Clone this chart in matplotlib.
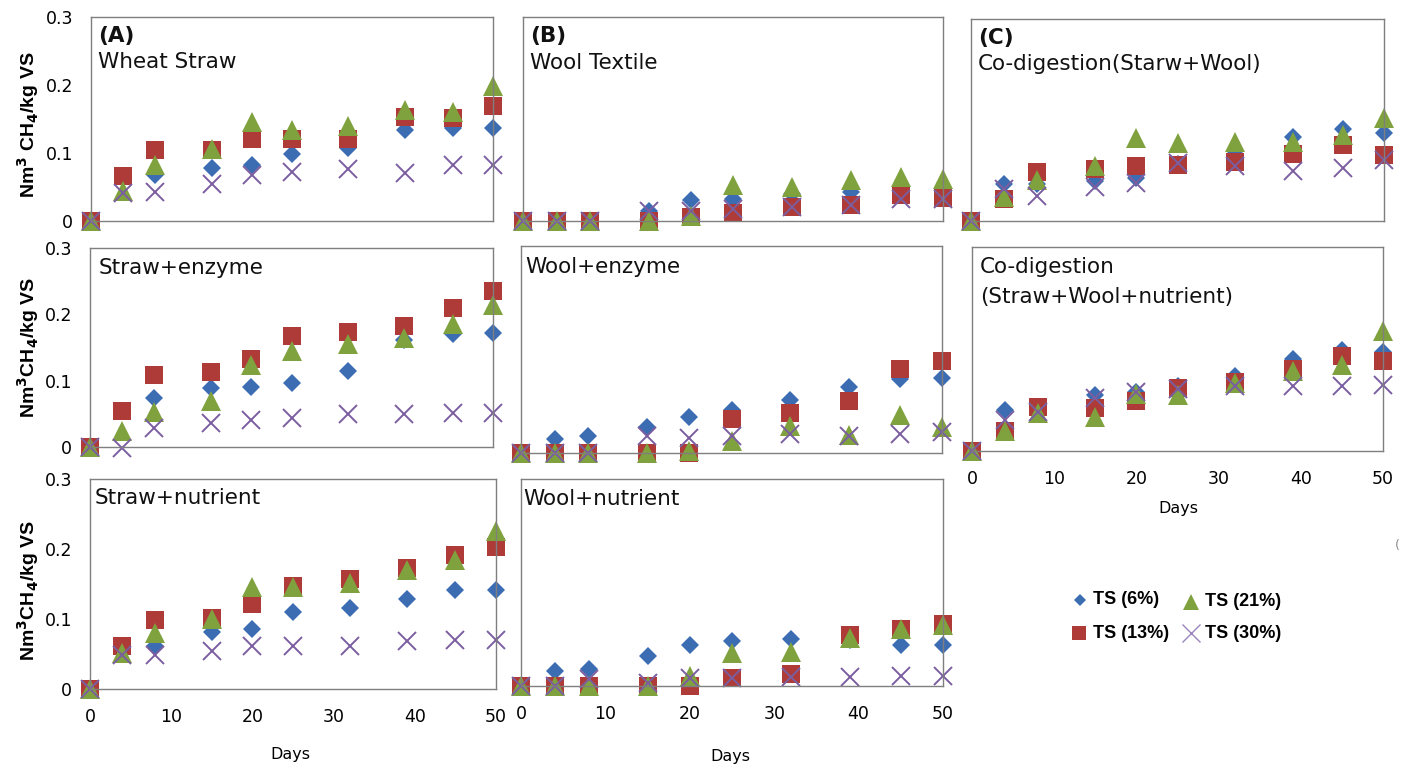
import matplotlib
matplotlib.use('Agg')
import matplotlib.pyplot as plt
from matplotlib.lines import Line2D

W, H = 1407, 769
days = [0, 4, 8, 15, 20, 25, 32, 39, 45, 50]
series_labels = ['TS (6%)', 'TS (13%)', 'TS (21%)', 'TS (30%)']

# (A) Wheat Straw
wheat_ts6 = [0, 0.065, 0.068, 0.078, 0.083, 0.098, 0.108, 0.134, 0.137, 0.137]
wheat_ts13 = [0, 0.066, 0.105, 0.105, 0.120, 0.120, 0.120, 0.153, 0.151, 0.169]
wheat_ts21 = [0, 0.044, 0.082, 0.106, 0.146, 0.134, 0.139, 0.163, 0.161, 0.198]
wheat_ts30 = [0, 0.041, 0.043, 0.055, 0.067, 0.072, 0.077, 0.071, 0.083, 0.083]
# (B) Wool Textile
wool_ts6 = [0, 0, 0, 0.015, 0.031, 0.032, 0.039, 0.042, 0.040, 0.036]
wool_ts13 = [0, 0, 0, 0, 0.006, 0.012, 0.020, 0.024, 0.038, 0.034]
wool_ts21 = [0, 0, 0, 0, 0.007, 0.053, 0.050, 0.060, 0.065, 0.062]
wool_ts30 = [0, 0, 0, 0.015, 0.015, 0.018, 0.020, 0.024, 0.033, 0.032]
# (C) Co-digestion (Straw+Wool)
codig_ts6 = [0, 0.055, 0.055, 0.060, 0.064, 0.085, 0.100, 0.125, 0.137, 0.130]
codig_ts13 = [0, 0.032, 0.073, 0.077, 0.082, 0.083, 0.088, 0.100, 0.113, 0.098]
codig_ts21 = [0, 0.035, 0.061, 0.082, 0.123, 0.116, 0.118, 0.117, 0.128, 0.153]
codig_ts30 = [0, 0.047, 0.037, 0.050, 0.057, 0.086, 0.081, 0.074, 0.079, 0.091]
# Straw + enzyme
strenz_ts6 = [0, 0.055, 0.074, 0.089, 0.091, 0.096, 0.114, 0.162, 0.171, 0.172]
strenz_ts13 = [0, 0.055, 0.108, 0.113, 0.133, 0.168, 0.173, 0.183, 0.210, 0.235]
strenz_ts21 = [0, 0.024, 0.053, 0.070, 0.124, 0.145, 0.155, 0.164, 0.185, 0.214]
strenz_ts30 = [0, -0.002, 0.029, 0.036, 0.040, 0.043, 0.049, 0.049, 0.052, 0.052]
# Wool + enzyme
woolenz_ts6 = [0, 0.021, 0.025, 0.037, 0.052, 0.063, 0.077, 0.095, 0.107, 0.109]
woolenz_ts13 = [0, 0, 0, 0, 0, 0.049, 0.058, 0.076, 0.122, 0.133]
woolenz_ts21 = [0, 0, 0, 0, 0.003, 0.018, 0.039, 0.026, 0.055, 0.038]
woolenz_ts30 = [0, 0, 0, 0.024, 0.022, 0.024, 0.028, 0.024, 0.028, 0.031]
# Co-digestion (Straw+Wool+nutrient)
codnut_ts6 = [0, 0.060, 0.065, 0.082, 0.087, 0.095, 0.110, 0.136, 0.149, 0.146]
codnut_ts13 = [0, 0.029, 0.065, 0.063, 0.073, 0.093, 0.102, 0.121, 0.139, 0.133]
codnut_ts21 = [0, 0.030, 0.056, 0.050, 0.084, 0.083, 0.100, 0.117, 0.126, 0.176]
codnut_ts30 = [0, 0.046, 0.058, 0.078, 0.087, 0.091, 0.095, 0.095, 0.096, 0.097]
# Straw + nutrient
strnut_ts6 = [0, 0.054, 0.061, 0.082, 0.086, 0.110, 0.116, 0.129, 0.141, 0.141]
strnut_ts13 = [0, 0.061, 0.098, 0.101, 0.121, 0.147, 0.157, 0.173, 0.192, 0.203]
strnut_ts21 = [0, 0.052, 0.080, 0.100, 0.146, 0.146, 0.151, 0.170, 0.185, 0.226]
strnut_ts30 = [0, 0.049, 0.049, 0.054, 0.061, 0.062, 0.061, 0.068, 0.070, 0.070]
# Wool + nutrient
woolnut_ts6 = [0, 0.022, 0.025, 0.043, 0.059, 0.065, 0.068, 0.067, 0.060, 0.060]
woolnut_ts13 = [0, 0, 0, 0, 0, 0.011, 0.017, 0.074, 0.083, 0.090]
woolnut_ts21 = [0, 0, 0, 0, 0.014, 0.048, 0.049, 0.070, 0.083, 0.088]
woolnut_ts30 = [0, 0, 0.010, 0.004, 0.011, 0.011, 0.013, 0.013, 0.015, 0.015]

BLUE, RED, GREEN, PURPLE = '#3C6DB2', '#AE3B38', '#80A23E', '#7B5EA0'
styles = [
    dict(marker='D', color=BLUE, ms=9.3, ls='none', mew=0),
    dict(marker='s', color=RED, ms=13.5, ls='none', mew=0),
    dict(marker='^', color=GREEN, ms=14.5, ls='none', mew=0),
    dict(marker='x', color=PURPLE, ms=13.5, ls='none', mew=1.4),
]

fig = plt.figure(figsize=(W / 100, H / 100), dpi=100)


def add_ax(x0, y0, x1, y1):
    return fig.add_axes([x0 / W, 1 - y1 / H, (x1 - x0) / W, (y1 - y0) / H])


def fx(x):
    return x / W


def fy(y):
    return 1 - y / H


panels = [
    # rect, data, texts, show_y, show_x
    ((91, 17, 493, 221), [wheat_ts6, wheat_ts13, wheat_ts21, wheat_ts30],
     [('(A)', 98, 36, 'bold'), ('Wheat Straw', 98, 62, 'normal')], True, False),
    ((523, 17, 943, 221), [wool_ts6, wool_ts13, wool_ts21, wool_ts30],
     [('(B)', 530, 36, 'bold'), ('Wool Textile', 530, 63, 'normal')], False, False),
    ((971, 19, 1384, 221), [codig_ts6, codig_ts13, codig_ts21, codig_ts30],
     [('(C)', 978, 38, 'bold'), ('Co-digestion(Starw+Wool)', 978, 64, 'normal')], False, False),
    ((90, 248, 493, 447), [strenz_ts6, strenz_ts13, strenz_ts21, strenz_ts30],
     [('Straw+enzyme', 99, 268, 'normal')], True, False),
    ((521, 246, 942, 453), [woolenz_ts6, woolenz_ts13, woolenz_ts21, woolenz_ts30],
     [('Wool+enzyme', 525, 267, 'normal')], False, False),
    ((972, 247, 1383, 451), [codnut_ts6, codnut_ts13, codnut_ts21, codnut_ts30],
     [('Co-digestion', 980, 267, 'normal'), ('(Straw+Wool+nutrient)', 980, 297, 'normal')], False, True),
    ((90, 479, 496, 689), [strnut_ts6, strnut_ts13, strnut_ts21, strnut_ts30],
     [('Straw+nutrient', 95, 498, 'normal')], True, True),
    ((521, 479, 943, 686), [woolnut_ts6, woolnut_ts13, woolnut_ts21, woolnut_ts30],
     [('Wool+nutrient', 523, 499, 'normal')], False, True),
]

for rect, data, texts, show_y, show_x in panels:
    ax = add_ax(*rect)
    for vals, st in zip(data, styles):
        ax.plot(days, vals, clip_on=False, **st)
    ax.set_xlim(0, 50)
    ax.set_ylim(0, 0.3)
    for sp in ax.spines.values():
        sp.set_color('#7f7f7f')
        sp.set_linewidth(1.0)
    ax.set_xticks([0, 10, 20, 30, 40, 50])
    ax.set_yticks([0, 0.1, 0.2, 0.3])
    ax.set_yticklabels(['0', '0.1', '0.2', '0.3'])
    ax.tick_params(length=0, labelsize=12.5)
    ax.tick_params(axis='x', pad=14)
    ax.tick_params(axis='y', pad=13)
    if not show_y:
        ax.set_yticklabels([])
    if not show_x:
        ax.set_xticklabels([])
    ax.set_zorder(1)
    ax.patch.set_alpha(0)
    for t, x, y, w in texts:
        fig.text(fx(x), fy(y), t, fontsize=15.5, fontweight=w, ha='left', va='center',
                 color='#111111')

# y axis labels
ylab_font = dict(family='Liberation Sans', fontsize=14, fontweight='bold', rotation=90,
                 ha='center', va='center')
fig.text(fx(28), fy(125), 'Nm$^{\\mathbf{3}}$ CH$_{\\mathbf{4}}$/kg VS', **ylab_font)
fig.text(fx(28), fy(347), 'Nm$^{\\mathbf{3}}$CH$_{\\mathbf{4}}$/kg VS', **ylab_font)
fig.text(fx(28), fy(590), 'Nm$^{\\mathbf{3}}$CH$_{\\mathbf{4}}$/kg VS', **ylab_font)

# Days labels
for x, y in [(290, 755), (730, 757), (1178, 508)]:
    fig.text(fx(x), fy(y), 'Days', fontsize=11.5, ha='center', va='center')

# legend
leg_items = [
    (1080, 600, 1093, styles[0], series_labels[0], 0.7),
    (1079, 633, 1093, styles[1], series_labels[1], 0.75),
    (1191, 602, 1205, styles[2], series_labels[2], 0.75),
    (1191, 633, 1205, styles[3], series_labels[3], 0.95),
]
for mx, my, tx, st, lab, scale in leg_items:
    s2 = dict(st)
    s2['ms'] = st['ms'] * scale
    if st['marker'] == 'x':
        s2['mew'] = 1.0
        s2['color'] = '#9a86bd'
    fig.add_artist(Line2D([fx(mx)], [fy(my)], transform=fig.transFigure, **s2))
    fig.text(fx(tx), fy(my), lab, family='Liberation Sans', fontsize=13,
             fontweight='bold', ha='left', va='center')

fig.text(fx(1397), fy(545), '(', fontsize=9, color='#888888', ha='center', va='center')

fig.savefig('out.png', dpi=100)
